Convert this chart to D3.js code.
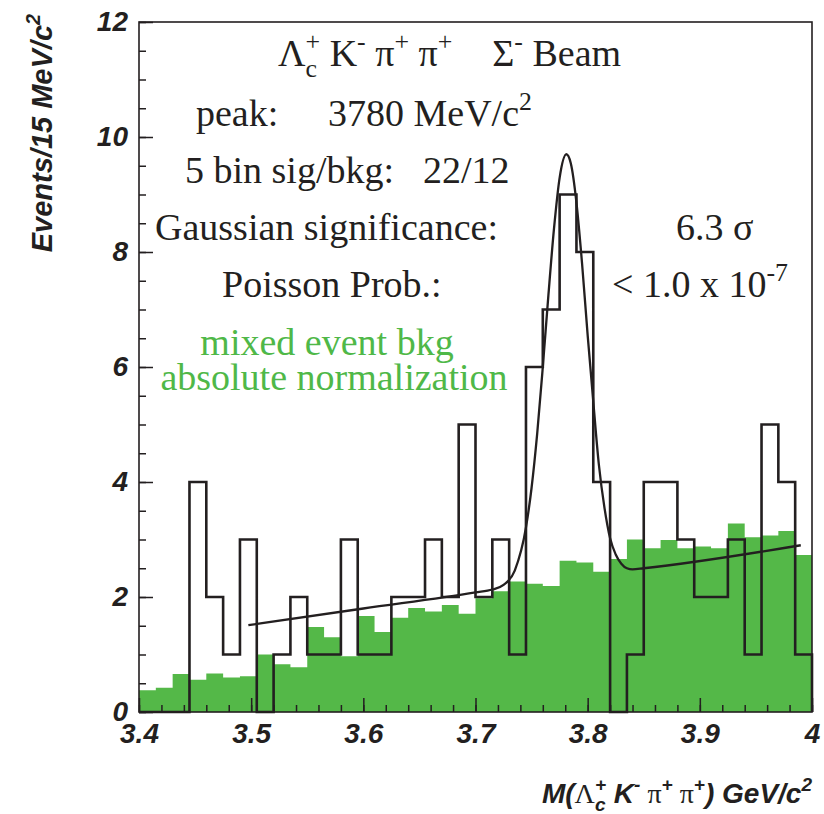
<!DOCTYPE html>
<meta charset="utf-8">
<style>
  body { margin: 0; background: #fff; }
  svg { display: block; }
  .axis text {
    font-family: "Liberation Sans", Arial, sans-serif;
    font-weight: bold;
    font-style: italic;
    font-size: 28px;
    fill: #231f20;
  }
  .axis line { stroke: #231f20; stroke-width: 1.5px; }
  .axis path { display: none; }
  .note {
    font-family: "Liberation Serif", "Times New Roman", serif;
    font-size: 38px;
    fill: #231f20;
  }
  .green { fill: #4fb848; }
  .title-ax {
    font-family: "Liberation Sans", Arial, sans-serif;
    font-weight: bold;
    font-style: italic;
    fill: #231f20;
  }
</style>
<body>
<svg id="chart" width="824" height="814"></svg>
<script src="https://cdn.jsdelivr.net/npm/d3@7/dist/d3.min.js"></script>
<script>
// bin low edges, GeV/c^2 (15 MeV bins)
var massLo = [3.400,3.415,3.430,3.445,3.460,3.475,3.490,3.505,3.520,3.535,
              3.550,3.565,3.580,3.595,3.610,3.625,3.640,3.655,3.670,3.685,
              3.700,3.715,3.730,3.745,3.760,3.775,3.790,3.805,3.820,3.835,
              3.850,3.865,3.880,3.895,3.910,3.925,3.940,3.955,3.970,3.985];
var binWidth = 0.015;

// data counts per bin
var counts = [0,0,0,4,2,1,3,0,1,2, 1,1,3,1,1,2,2,3,2,5,
              2,3,1,6,7,9,8,4,0,1, 4,4,3,2,2,3,1,5,4,1];

// mixed event background, absolute normalization
var mixedBkg = [0.38,0.42,0.66,0.56,0.67,0.60,0.62,1.00,0.83,0.78,
                1.48,1.30,0.97,1.67,1.39,1.64,1.81,1.75,1.86,1.71,
                1.98,2.10,2.27,2.23,2.19,2.63,2.60,2.44,2.66,3.00,
                2.85,2.99,2.85,2.88,2.85,3.28,3.04,3.07,3.15,2.73];

// fit curve (gaussian + linear)
var fitMass   = [3.4975,3.60,3.70,3.715,3.725,3.735,3.745,3.75,3.755,3.76,3.765,3.77,3.775,
                 3.781,3.785,3.79,3.795,3.80,3.805,3.81,3.815,3.82,3.825,3.83,3.835,3.84,3.85,3.99];
var fitEvents = [1.51,1.80,2.08,2.13,2.21,2.46,3.21,3.90,4.84,6.00,7.25,8.41,9.29,
                 9.70,9.54,8.86,7.80,6.55,5.40,4.30,3.55,3.02,2.74,2.58,2.50,2.48,2.50,2.90];

var xTicks = [3.4,3.5,3.6,3.7,3.8,3.9,4.0];
var xTickLabels = ["3.4","3.5","3.6","3.7","3.8","3.9","4"];
var yTicks = [0,2,4,6,8,10,12];

var ink = "#231f20";
var plotL = 139, plotR = 812, plotT = 22, plotB = 712;

var svg = d3.select("#chart");

var x = d3.scaleLinear().domain([3.4, 4.0]).range([plotL, plotR]);
var y = d3.scaleLinear().domain([0, 12]).range([plotB, plotT]);

var bins = massLo.map(function(m, i) {
	return { lo: m, n: counts[i], bkg: mixedBkg[i] };
});
var last = bins[bins.length - 1];

// green mixed event histogram
var bkgPts = bins.concat([{ lo: last.lo + binWidth, bkg: last.bkg }]);
svg.append("path")
	.datum(bkgPts)
	.attr("fill", "#54b848")
	.attr("d", d3.area()
		.x(function(d) { return x(d.lo); })
		.y0(y(0))
		.y1(function(d) { return y(d.bkg); })
		.curve(d3.curveStepAfter));

// black data histogram
var dataPts = [{ lo: 3.4, n: 0 }].concat(bins)
	.concat([{ lo: last.lo + binWidth, n: last.n }, { lo: last.lo + binWidth, n: 0 }]);
svg.append("path")
	.datum(dataPts)
	.attr("fill", "none")
	.attr("stroke", ink)
	.attr("stroke-width", 2.6)
	.attr("d", d3.line()
		.x(function(d) { return x(d.lo); })
		.y(function(d) { return y(d.n); })
		.curve(d3.curveStepAfter));

// fit
svg.append("path")
	.datum(fitMass.map(function(m, i) { return [m, fitEvents[i]]; }))
	.attr("fill", "none")
	.attr("stroke", ink)
	.attr("stroke-width", 2.3)
	.attr("d", d3.line()
		.x(function(d) { return x(d[0]); })
		.y(function(d) { return y(d[1]); })
		.curve(d3.curveMonotoneX));

// axes, ticks pointing in
svg.append("g").attr("class", "axis")
	.attr("transform", "translate(0," + plotB + ")")
	.call(d3.axisBottom(x).tickValues(d3.range(3.4, 4.0001, 0.02)).tickSize(-7).tickFormat(""));
svg.append("g").attr("class", "axis")
	.attr("transform", "translate(0," + plotB + ")")
	.call(d3.axisBottom(x).tickValues(xTicks).tickSize(-14).tickPadding(11)
		.tickFormat(function(d, i) { return xTickLabels[i]; }));
svg.append("g").attr("class", "axis")
	.attr("transform", "translate(" + plotL + ",0)")
	.call(d3.axisLeft(y).tickValues(d3.range(0, 12.001, 0.5)).tickSize(-7).tickFormat(""));
svg.append("g").attr("class", "axis")
	.attr("transform", "translate(" + plotL + ",0)")
	.call(d3.axisLeft(y).tickValues(yTicks).tickSize(-14).tickPadding(11));

svg.append("rect")
	.attr("x", plotL).attr("y", plotT)
	.attr("width", plotR - plotL).attr("height", plotB - plotT)
	.attr("fill", "none").attr("stroke", ink).attr("stroke-width", 1.6);

// text with sub/superscripts. kind: n, sub, sup, stack (sup over previous sub)
function rich(sel, px, py, parts, size, anchor) {
	var t = sel.append("text")
		.attr("x", px).attr("y", py)
		.attr("text-anchor", anchor || "start")
		.style("font-size", size + "px");
	var shift = 0, prev = null;
	parts.forEach(function(p) {
		var kind = p[1];
		var target = kind == "sub" ? 0.3 * size : (kind == "sup" || kind == "stack") ? -0.42 * size : 0;
		var ts = t.append("tspan").text(p[0]).attr("dy", target - shift);
		if (kind != "n") ts.style("font-size", (0.68 * size) + "px");
		var dx = p[2] || 0;
		if (kind == "stack" && prev) dx -= prev.node().getComputedTextLength();
		if (dx) ts.attr("dx", dx);
		if (p[3]) ts.attr("style", (ts.attr("style") || "") + ";" + p[3]);
		shift = target;
		prev = ts;
	});
	return t;
}

var notes = svg.append("g").attr("class", "note").style("white-space", "pre");

rich(notes, 278, 66, [["\u039b", "n"], ["c", "sub"], ["+", "stack"], [" K", "n"], ["-", "sup"],
	[" \u03c0", "n"], ["+", "sup"], [" \u03c0", "n"], ["+", "sup"],
	["\u03a3", "n", 40], ["-", "sup"], [" Beam", "n"]], 38);
rich(notes, 196, 126, [["peak:", "n"]], 38);
rich(notes, 328, 126, [["3780 MeV/c", "n"], ["2", "sup"]], 38);
rich(notes, 185, 183, [["5 bin sig/bkg:", "n"]], 38);
rich(notes, 423, 183, [["22/12", "n"]], 38);
rich(notes, 155, 240, [["Gaussian significance:", "n"]], 38);
rich(notes, 676, 240, [["6.3 \u03c3", "n"]], 38);
rich(notes, 222, 297, [["Poisson Prob.:", "n"]], 38);
rich(notes, 612, 297, [["< 1.0 x 10", "n"], ["-7", "sup"]], 38);
rich(notes, 327, 355, [["mixed event bkg", "n"]], 38, "middle").attr("class", "green");
rich(notes, 334, 390, [["absolute normalization", "n"]], 38, "middle").attr("class", "green");

// axis titles
var greek = "font-style:normal;font-weight:normal;font-family:'Liberation Serif',serif";
var ax = svg.append("g").attr("class", "title-ax");
rich(ax, 812, 803, [["M(", "n"], ["\u039b", "n", 0, greek], ["c", "sub"], ["+", "stack"],
	[" K", "n"], ["-", "sup"], [" \u03c0", "n", 0, greek], ["+", "sup"],
	[" \u03c0", "n", 0, greek], ["+", "sup"], [") GeV/c", "n"], ["2", "sup"]], 28, "end");

var yt = ax.append("g").attr("transform", "translate(52,14) rotate(-90)");
rich(yt, 0, 0, [["Events/15 MeV/c", "n"], ["2", "sup"]], 29, "end");
</script>
</body>
